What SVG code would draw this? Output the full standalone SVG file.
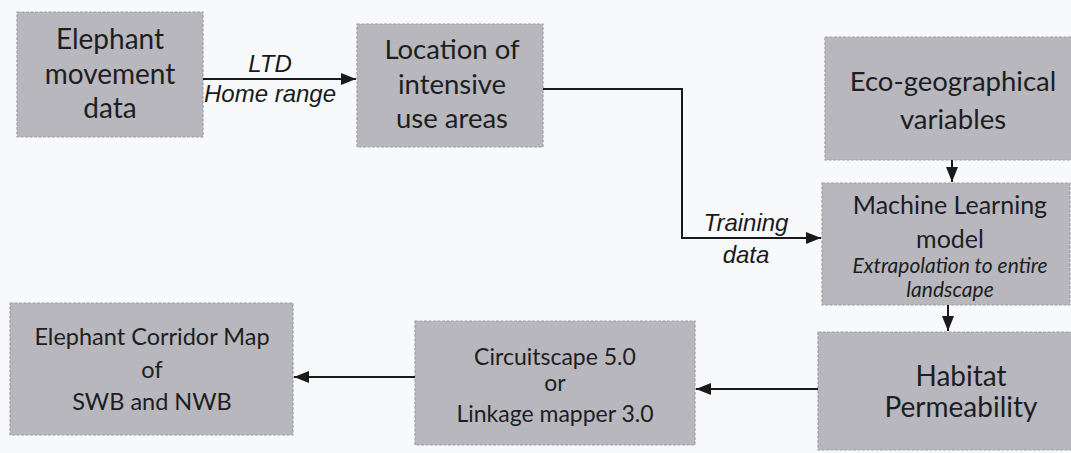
<svg xmlns="http://www.w3.org/2000/svg" width="1071" height="453" viewBox="0 0 1071 453">
  <style>
    .box { fill: #b7b7bd; stroke: #a0a0a7; stroke-width: 1.2; stroke-dasharray: 3 1.5; }
    .t { font-family: Lato, "Open Sans", sans-serif; fill: #1e1e22; text-anchor: middle; }
    .ti { font-family: Lato, "Open Sans", sans-serif; font-style: italic; fill: #1e1e22; text-anchor: middle; }
    .lbl { font-family: "Liberation Sans", Arial, sans-serif; font-style: italic; fill: #1a1a1a; text-anchor: middle; font-size: 24px; }
    .edge { fill: none; stroke: #1a1a1a; stroke-width: 2; }
  </style>
  <defs>
    <marker id="arrow" viewBox="0 0 10 10" refX="10" refY="5" markerWidth="7.5" markerHeight="6" markerUnits="strokeWidth" orient="auto" preserveAspectRatio="none">
      <path d="M0,0 L10,5 L0,10 z" fill="#1a1a1a"/>
    </marker>
  </defs>

  <rect width="1071" height="453" fill="#f8f9fb"/>

  <!-- process boxes -->
  <g id="movement-data">
    <rect class="box" x="17" y="12" width="186" height="125"/>
    <text class="t" font-size="28" x="110" y="49">Elephant</text>
    <text class="t" font-size="28" x="110" y="84">movement</text>
    <text class="t" font-size="28" x="110" y="118">data</text>
  </g>

  <g id="intensive-use">
    <rect class="box" x="357" y="24" width="186" height="123"/>
    <text class="t" font-size="27.5" x="452" y="59">Location of</text>
    <text class="t" font-size="27.5" x="452" y="94">intensive</text>
    <text class="t" font-size="27.5" x="452" y="128">use areas</text>
  </g>

  <g id="eco-variables">
    <rect class="box" x="825" y="37" width="250" height="123"/>
    <text class="t" font-size="27.5" x="953" y="91">Eco-geographical</text>
    <text class="t" font-size="27.5" x="953" y="129">variables</text>
  </g>

  <g id="ml-model">
    <rect class="box" x="822" y="183" width="248" height="122"/>
    <text class="t" font-size="25" x="950" y="214">Machine Learning</text>
    <text class="t" font-size="25" x="950" y="248">model</text>
    <text class="ti" font-size="21" x="950" y="273">Extrapolation to entire</text>
    <text class="ti" font-size="21" x="950" y="297">landscape</text>
  </g>

  <g id="habitat">
    <rect class="box" x="818" y="332" width="257" height="118"/>
    <text class="t" font-size="28" x="961" y="386">Habitat</text>
    <text class="t" font-size="28" x="961" y="417">Permeability</text>
  </g>

  <g id="connectivity-tool">
    <rect class="box" x="415" y="321" width="280" height="124"/>
    <text class="t" font-size="23" x="555" y="365">Circuitscape 5.0</text>
    <text class="t" font-size="23" x="555" y="391">or</text>
    <text class="t" font-size="23" x="555" y="422">Linkage mapper 3.0</text>
  </g>

  <g id="corridor-map">
    <rect class="box" x="10" y="303" width="283" height="132"/>
    <text class="t" font-size="23.5" x="152" y="345">Elephant Corridor Map</text>
    <text class="t" font-size="23.5" x="152" y="378">of</text>
    <text class="t" font-size="23.5" x="152" y="410">SWB and NWB</text>
  </g>

  <!-- connectors -->
  <g id="connectors">
    <path class="edge" d="M203,79 L356,79" marker-end="url(#arrow)"/>
    <path class="edge" d="M543,89 L682,89 L682,238 L821,238" marker-end="url(#arrow)"/>
    <path class="edge" d="M952,160 L952,182" marker-end="url(#arrow)"/>
    <path class="edge" d="M948,305 L948,331" marker-end="url(#arrow)"/>
    <path class="edge" d="M818,389 L696,389" marker-end="url(#arrow)"/>
    <path class="edge" d="M415,377 L294,377" marker-end="url(#arrow)"/>
  </g>

  <!-- connector labels -->
  <g id="labels">
    <text class="lbl" x="270" y="72">LTD</text>
    <text class="lbl" x="270" y="102">Home range</text>
    <text class="lbl" x="746" y="231">Training</text>
    <text class="lbl" x="746" y="263">data</text>
  </g>
</svg>
